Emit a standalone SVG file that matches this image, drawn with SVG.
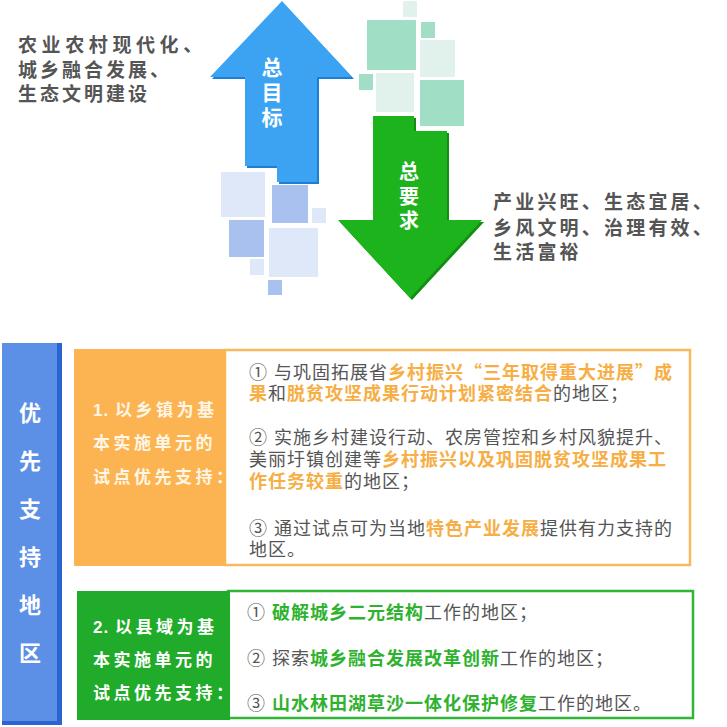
<svg xmlns="http://www.w3.org/2000/svg" width="727" height="727" viewBox="0 0 727 727">
<style>
.t{font-family:'Liberation Sans','Noto Sans CJK SC',sans-serif;}
.q{font-family:'Noto Sans CJK SC','Liberation Sans',sans-serif;}
.dark{fill:#555555;font-weight:bold;font-size:19px;}
.body{font-size:18px;letter-spacing:1px;fill:#555555;}
.o{fill:#f6ae45;font-weight:bold;}
.gr{fill:#2fb22f;font-weight:bold;}
.w{fill:#ffffff;font-weight:bold;}
.bl1{fill:#dfe8f8;}
.bl2{fill:#a8c1ee;}
.gl1{fill:#e0f2eb;}
.gl2{fill:#a0dec6;}
</style>
<rect x="0" y="0" width="727" height="727" fill="#ffffff"/>

<g id="squares-green">
<rect class="gl1" x="403" y="1" width="14" height="16"/>
<rect class="gl2" x="367" y="20" width="49" height="50"/>
<rect class="gl2" x="421" y="22" width="14" height="16"/>
<rect class="gl1" x="420" y="40" width="35" height="37"/>
<rect class="gl2" x="359" y="74" width="14" height="16"/>
<rect class="gl1" x="376" y="73" width="38" height="39"/>
<rect class="gl2" x="420" y="80" width="44" height="46"/>
</g>

<g id="squares-blue">
<rect class="bl1" x="221" y="172" width="44" height="45"/>
<rect class="bl2" x="272" y="185" width="36" height="38"/>
<rect class="bl1" x="312" y="208" width="14" height="15"/>
<rect class="bl2" x="229" y="220" width="35" height="37"/>
<rect class="bl1" x="269" y="228" width="49" height="49"/>
<rect class="bl1" x="250" y="259" width="14" height="16"/>
<rect class="bl2" x="268" y="280" width="14" height="15"/>
</g>

<g id="goal-arrow">
<polygon points="283,3 354,79 319,79 319,184 279,184 279,168 247,168 247,79 212,79" fill="#1f7ed0"/>
<polygon points="282,1 352,77 317,77 317,182 277,182 277,166 245,166 245,77 210,77" fill="#3ba3f2"/>
<text class="t w" font-size="21" text-anchor="middle"><tspan x="272" y="75">总</tspan><tspan x="272" y="100">目</tspan><tspan x="272" y="125">标</tspan></text>
</g>

<g id="req-arrow">
<polygon points="375,118 416,118 416,133 449,133 449,222 484,222 412,300 340,222 375,222" fill="#128f12"/>
<polygon points="373,116 414,116 414,131 447,131 447,220 482,220 410,298 338,220 373,220" fill="#1db31d"/>
<text class="t w" font-size="20" text-anchor="middle"><tspan x="409" y="179">总</tspan><tspan x="409" y="204">要</tspan><tspan x="409" y="228">求</tspan></text>
</g>

<g id="goal-text">
<text class="t dark"><tspan x="18" y="52" letter-spacing="4.6">农业农村现代化、</tspan><tspan x="18" y="77" letter-spacing="3">城乡融合发展、</tspan><tspan x="18" y="101" letter-spacing="3">生态文明建设</tspan></text>
</g>

<g id="req-text">
<text class="t dark" letter-spacing="3.2"><tspan x="493" y="209">产业兴旺、生态宜居、</tspan><tspan x="493" y="235">乡风文明、治理有效、</tspan><tspan x="493" y="259">生活富裕</tspan></text>
</g>

<g id="priority-bar">
<rect x="2" y="343" width="60" height="382" fill="#2b63d2"/>
<rect x="2" y="343" width="55" height="378" fill="#5c8fe6"/>
<text class="t w" font-size="22" text-anchor="middle"><tspan x="30" y="421">优</tspan><tspan x="30" y="469">先</tspan><tspan x="30" y="517">支</tspan><tspan x="30" y="565">持</tspan><tspan x="30" y="613">地</tspan><tspan x="30" y="661">区</tspan></text>
</g>

<g id="box1">
<rect x="225" y="350" width="465" height="215" fill="#ffffff" stroke="#f8b85e" stroke-width="2.5"/>
<rect x="74" y="349" width="152" height="217" fill="#fcb452"/>
<text class="t" font-size="17" font-weight="bold" fill="#fff6e6" letter-spacing="3.5"><tspan x="93" y="416"><tspan letter-spacing="1">1.</tspan><tspan x="115">以乡镇为基</tspan></tspan><tspan x="93" y="449">本实施单元的</tspan><tspan x="93" y="483">试点优先支持：</tspan></text>
<text class="t body">
<tspan x="249" y="379"><tspan class="q">①</tspan> 与巩固拓展省<tspan class="o">乡村振兴<tspan class="q">“</tspan>三年取得重大进展<tspan class="q">”</tspan>成</tspan></tspan>
<tspan x="249" y="400"><tspan class="o">果</tspan>和<tspan class="o">脱贫攻坚成果行动计划紧密结合</tspan>的地区；</tspan>
<tspan x="249" y="444"><tspan class="q">②</tspan> 实施乡村建设行动、农房管控和乡村风貌提升、</tspan>
<tspan x="249" y="466">美丽圩镇创建等<tspan class="o">乡村振兴以及巩固脱贫攻坚成果工</tspan></tspan>
<tspan x="249" y="488"><tspan class="o">作任务较重</tspan>的地区；</tspan>
<tspan x="249" y="535"><tspan class="q">③</tspan> 通过试点可为当地<tspan class="o">特色产业发展</tspan>提供有力支持的</tspan>
<tspan x="249" y="556">地区。</tspan>
</text>
</g>

<g id="box2">
<rect x="228" y="591" width="465" height="127" fill="#ffffff" stroke="#30b535" stroke-width="2.5"/>
<rect x="77" y="591" width="153" height="129" fill="#20ab2a"/>
<text class="t w" font-size="17" letter-spacing="3.5"><tspan x="93" y="633"><tspan letter-spacing="1">2.</tspan><tspan x="115">以县域为基</tspan></tspan><tspan x="93" y="666">本实施单元的</tspan><tspan x="93" y="699">试点优先支持：</tspan></text>
<text class="t body">
<tspan x="247" y="619"><tspan class="q">①</tspan> <tspan class="gr">破解城乡二元结构</tspan>工作的地区；</tspan>
<tspan x="247" y="665"><tspan class="q">②</tspan> 探索<tspan class="gr">城乡融合发展改革创新</tspan>工作的地区；</tspan>
<tspan x="247" y="710"><tspan class="q">③</tspan> <tspan class="gr">山水林田湖草沙一体化保护修复</tspan>工作的地区。</tspan>
</text>
</g>

<g id="connectors"></g>
</svg>
